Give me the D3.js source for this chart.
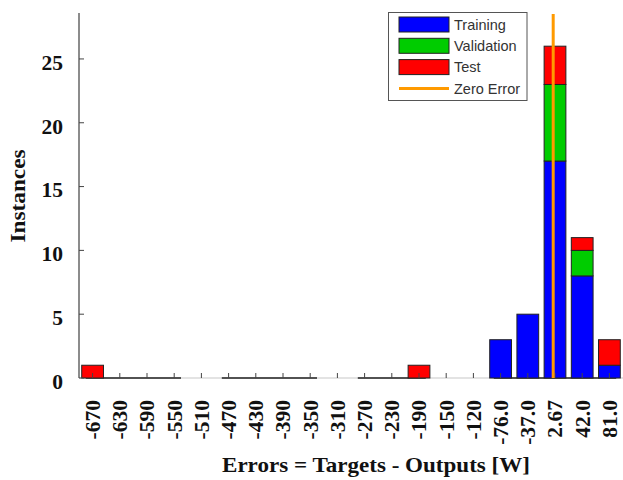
<!DOCTYPE html>
<html>
<head>
<meta charset="utf-8">
<script src="https://cdn.jsdelivr.net/npm/d3@7"></script>
<style>
  html, body { margin: 0; padding: 0; background: #fff; }
  svg { display: block; }
</style>
</head>
<body>
<svg id="chart" width="623" height="480"></svg>
<script>
// ---- data ----
const binLabels = ["-670","-630","-590","-550","-510","-470","-430","-390","-350","-310",
                   "-270","-230","-190","-150","-120","-76.0","-37.0","2.67","42.0","81.0"];
const training   = [0,0,0,0,0,0,0,0,0,0,0,0,0,0,0,3,5,17,8,1];
const validation = [0,0,0,0,0,0,0,0,0,0,0,0,0,0,0,0,0,6,2,0];
const test       = [1,0,0,0,0,0,0,0,0,0,0,0,1,0,0,0,0,3,1,2];
const emptyBins  = ["-510","-310","-150","-120"];   // bins with no zero-height bar drawn
const errorRange = [-690.2, 101.6];                  // outer bin edges (error units)
const zeroError  = 0;
const yTicks     = [0,5,10,15,20,25];
const yMax       = 28.6;
const seriesNames  = ["Training","Validation","Test"];
const seriesColors = ["#0000ff","#00cc00","#ff0000"];

// ---- layout ----
const svg = d3.select("#chart");
const pL = 79, pR = 623, pT = 13, pB = 378;

const x = d3.scaleBand().domain(binLabels).range([pL, pR]).paddingInner(0.2).paddingOuter(0.1);
const xErr = d3.scaleLinear().domain(errorRange).range([pL, pR]);
const y = d3.scaleLinear().domain([0, yMax]).range([pB, pT]);
const step = x.step();
const cx = l => x(l) + x.bandwidth() / 2;

// light baseline
svg.append("line").attr("x1", pL).attr("x2", pR).attr("y1", pB).attr("y2", pB)
  .attr("stroke", "#c8c8c8").attr("stroke-width", 1.2);

// dark baseline runs for bins with zero-height bars
const runs = [];
let cur = null;
binLabels.forEach((l, i) => {
  if (!emptyBins.includes(l)) {
    if (cur) cur.end = l; else { cur = { start: l, end: l }; }
  } else if (cur) { runs.push(cur); cur = null; }
});
if (cur) runs.push(cur);
svg.selectAll("line.run").data(runs).enter().append("line").attr("class", "run")
  .attr("x1", d => Math.max(pL, cx(d.start) - 0.25 * step))
  .attr("x2", d => Math.min(pR, cx(d.end) + 0.25 * step))
  .attr("y1", pB).attr("y2", pB)
  .attr("stroke", "#222").attr("stroke-width", 1.5);

// stacked bars
const rows = binLabels.map((l, i) => ({ label: l, Training: training[i], Validation: validation[i], Test: test[i] }));
const stack = d3.stack().keys(seriesNames)(rows);
stack.forEach((layer, si) => {
  svg.append("g").selectAll("rect").data(layer.filter(d => d[1] - d[0] > 0)).enter().append("rect")
    .attr("x", d => x(d.data.label))
    .attr("width", x.bandwidth())
    .attr("y", d => y(d[1]))
    .attr("height", d => y(d[0]) - y(d[1]))
    .attr("fill", seriesColors[si])
    .attr("stroke", "#222").attr("stroke-width", 1);
});

// x ticks
svg.append("g").selectAll("line").data(binLabels).enter().append("line")
  .attr("x1", d => cx(d)).attr("x2", d => cx(d))
  .attr("y1", pB).attr("y2", pB - 5)
  .attr("stroke", "#444").attr("stroke-width", 1);

// x tick labels
svg.append("g").selectAll("text").data(binLabels).enter().append("text")
  .attr("transform", d => `translate(${cx(d)},400) rotate(-90)`)
  .attr("dy", "0.34em")
  .attr("text-anchor", "end")
  .attr("font-family", "'Liberation Serif', 'Times New Roman', serif")
  .attr("font-weight", "bold").attr("font-size", 21.5)
  .attr("fill", "#111")
  .text(d => d);

// y axis
svg.append("line").attr("x1", pL).attr("x2", pL).attr("y1", pT).attr("y2", pB)
  .attr("stroke", "#666").attr("stroke-width", 1.5);
svg.append("g").selectAll("line").data(yTicks).enter().append("line")
  .attr("x1", pL).attr("x2", pL + 5)
  .attr("y1", d => y(d)).attr("y2", d => y(d))
  .attr("stroke", "#444").attr("stroke-width", 1);
svg.append("g").selectAll("text").data(yTicks).enter().append("text")
  .attr("x", 63).attr("y", d => y(d)).attr("dy", "0.5em")
  .attr("text-anchor", "end")
  .attr("font-family", "'Liberation Serif', 'Times New Roman', serif")
  .attr("font-weight", "bold").attr("font-size", 21.5)
  .attr("fill", "#111")
  .text(d => d);

// zero error line
svg.append("line")
  .attr("x1", xErr(zeroError)).attr("x2", xErr(zeroError))
  .attr("y1", pT + 1).attr("y2", pB)
  .attr("stroke", "#ff9a00").attr("stroke-width", 3);

// axis titles
svg.append("text")
  .attr("transform", "translate(25,196) rotate(-90)")
  .attr("text-anchor", "middle")
  .attr("font-family", "'Liberation Serif', 'Times New Roman', serif")
  .attr("font-weight", "bold").attr("font-size", 21)
  .attr("textLength", 93).attr("lengthAdjust", "spacingAndGlyphs")
  .attr("fill", "#111")
  .text("Instances");
svg.append("text")
  .attr("x", 376).attr("y", 471.5)
  .attr("text-anchor", "middle")
  .attr("font-family", "'Liberation Serif', 'Times New Roman', serif")
  .attr("font-weight", "bold").attr("font-size", 21)
  .attr("textLength", 308).attr("lengthAdjust", "spacingAndGlyphs")
  .attr("fill", "#111")
  .text("Errors = Targets - Outputs [W]");

// legend
const lg = svg.append("g");
lg.append("rect").attr("x", 388.5).attr("y", 12.5).attr("width", 138.5).attr("height", 88)
  .attr("fill", "#fff").attr("stroke", "#555").attr("stroke-width", 1);
const legendItems = seriesNames.map((n, i) => ({ name: n, color: seriesColors[i], type: "rect" }))
  .concat([{ name: "Zero Error", color: "#ff9a00", type: "line" }]);
const rowY = i => 24.5 + i * 21.3;
legendItems.forEach((d, i) => {
  if (d.type === "rect") {
    lg.append("rect").attr("x", 399).attr("y", rowY(i) - 7.5).attr("width", 50).attr("height", 15)
      .attr("fill", d.color).attr("stroke", "#222").attr("stroke-width", 1);
  } else {
    lg.append("line").attr("x1", 399).attr("x2", 449).attr("y1", rowY(i)).attr("y2", rowY(i))
      .attr("stroke", d.color).attr("stroke-width", 3);
  }
  lg.append("text").attr("x", 454).attr("y", rowY(i)).attr("dy", "0.36em")
    .attr("font-family", "'Liberation Sans', Arial, sans-serif").attr("font-size", 14.5)
    .attr("fill", "#333").text(d.name);
});
</script>
</body>
</html>
